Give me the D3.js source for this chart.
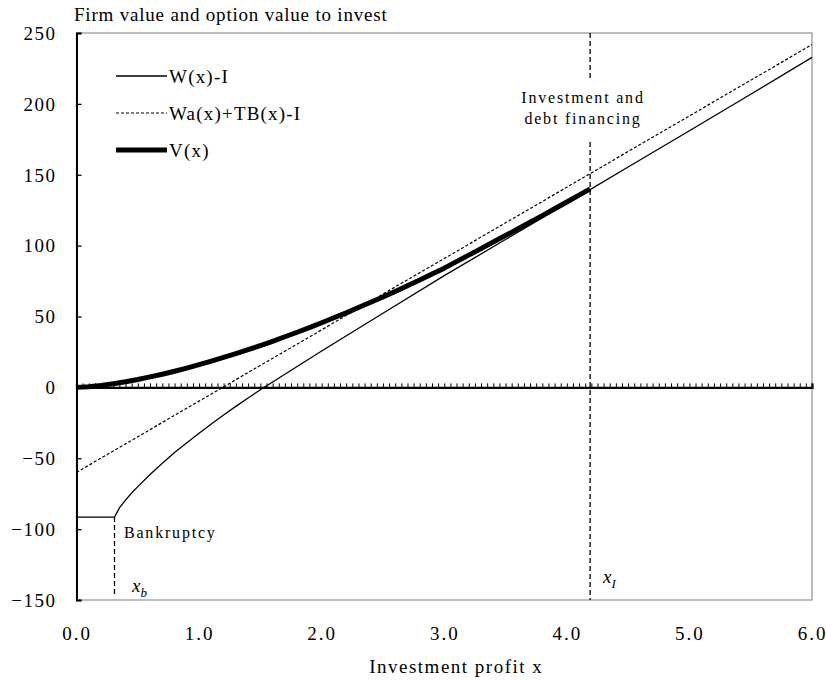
<!DOCTYPE html>
<html><head><meta charset="utf-8">
<script src="https://cdn.jsdelivr.net/npm/d3@7"></script>
<style>
html,body{margin:0;padding:0;background:#fff;}
svg{display:block;}
text{font-family:"Liberation Serif","Times New Roman",serif;fill:#000;}
</style></head>
<body>
<svg id="chart" width="826" height="682"></svg>
<script>
// ---- data ----
const xTickLabels = [0, 1, 2, 3, 4, 5, 6];
const yTickValues = [-150, -100, -50, 0, 50, 100, 150, 200, 250];

// W(x)-I (thin solid)
const wX = [0, 0.31, 0.35, 0.4, 0.45, 0.5, 0.6, 0.7, 0.8, 0.9, 1.0, 1.1, 1.2, 1.3, 1.4, 1.5, 1.6, 1.8, 2.0, 2.5, 3.0, 3.5, 4.0, 4.2, 4.5, 5.0, 5.5, 6.0];
const wY = [-91.5, -91.5, -85, -79.5, -74.5, -70, -61.5, -53.5, -46, -39, -32.3, -25.8, -19.5, -13.4, -7.5, -1.7, 3.8, 14.7, 25.7, 52.3, 78.8, 104.3, 129.8, 140.0, 155.5, 181, 206.8, 232.8];

// Wa(x)+TB(x)-I (thin dashed)
const aX = [0, 0.5, 1.0, 1.5, 2.0, 2.5, 3.0, 3.5, 4.0, 4.5, 5.0, 5.5, 6.0];
const aY = [-60, -34.8, -9.7, 15.5, 40.6, 65.8, 90.9, 116.1, 141.2, 166.4, 191.5, 216.7, 241.8];

// V(x) (thick solid), up to the investment trigger
const vX = [0, 0.1, 0.2, 0.3, 0.4, 0.5, 0.6, 0.7, 0.8, 0.9, 1.0, 1.1, 1.2, 1.3, 1.4, 1.5, 1.6, 1.7, 1.8, 1.9, 2.0, 2.1, 2.2, 2.3, 2.4, 2.5, 2.6, 2.7, 2.8, 2.9, 3.0, 3.1, 3.2, 3.3, 3.4, 3.5, 3.6, 3.7, 3.8, 3.9, 4.0, 4.1, 4.19];
const vY = [0, 0.5, 1.4, 2.6, 4.0, 5.6, 7.4, 9.3, 11.4, 13.6, 16.0, 18.5, 21.1, 23.8, 26.6, 29.5, 32.5, 35.7, 38.9, 42.2, 45.6, 49.1, 52.6, 56.3, 60.0, 63.8, 67.7, 71.7, 75.7, 79.9, 84.1, 88.7, 93.3, 97.9, 102.5, 107.1, 111.8, 116.5, 121.2, 126.0, 130.8, 135.6, 140.0];

const xBankrupt = 0.31;
const xInvest = 4.19;
const legendLabels = ["W(x)-I", "Wa(x)+TB(x)-I", "V(x)"];

// ---- layout ----
const svg = d3.select("#chart");
const L = 76.5, R = 812, T = 33, B = 600;
const x = d3.scaleLinear().domain([0, 6]).range([L, R]);
const y = d3.scaleLinear().domain([-150, 250]).range([B, T]);

// plot frame (gray)
svg.append("rect").attr("x", L).attr("y", T).attr("width", R - L).attr("height", B - T)
  .attr("fill", "none").attr("stroke", "#9a9a9a").attr("stroke-width", 1.3);

// series
const line = d3.line().x(d => x(d[0])).y(d => y(d[1]));
svg.append("path").datum(aX.map((v, i) => [v, aY[i]])).attr("d", line)
  .attr("fill", "none").attr("stroke", "#000").attr("stroke-width", 1.2).attr("stroke-dasharray", "3,2");
svg.append("path").datum(wX.map((v, i) => [v, wY[i]])).attr("d", line)
  .attr("fill", "none").attr("stroke", "#000").attr("stroke-width", 1.3);
svg.append("path").datum(vX.map((v, i) => [v, vY[i]])).attr("d", line)
  .attr("fill", "none").attr("stroke", "#000").attr("stroke-width", 5).attr("stroke-linejoin", "round");

// zero axis with dense ticks
const zeroAxis = d3.axisTop(x).tickValues(d3.range(0, 6.0001, 0.05)).tickSize(4).tickFormat("");
const gz = svg.append("g").attr("transform", `translate(0,${y(0)})`).call(zeroAxis);
gz.select(".domain").attr("stroke", "#000").attr("stroke-width", 2.2);
gz.selectAll(".tick line").attr("stroke", "#000").attr("stroke-width", 1);

// x labels at bottom
const xAxis = d3.axisBottom(x).tickValues(xTickLabels).tickSize(0).tickPadding(0).tickFormat(d3.format(".1f"));
const gx = svg.append("g").attr("transform", `translate(0,${B})`).call(xAxis);
gx.select(".domain").remove();
gx.selectAll("text").attr("y", 40).attr("dy", 0)
  .style("font-size", "19px").style("letter-spacing", "2px");

// y axis
const yAxis = d3.axisLeft(y).tickValues(yTickValues).tickSize(-5).tickPadding(20);
const gy = svg.append("g").attr("transform", `translate(${L},0)`).call(yAxis);
gy.select(".domain").attr("stroke", "#000").attr("stroke-width", 2);
gy.selectAll(".tick line").attr("stroke", "#000").attr("stroke-width", 1.3);
gy.selectAll("text").style("font-size", "19px").style("letter-spacing", "1.5px").attr("dy", "0.33em");

// vertical dashed markers
svg.append("line").attr("x1", x(xBankrupt)).attr("x2", x(xBankrupt))
  .attr("y1", y(wY[1])).attr("y2", B - 5)
  .attr("stroke", "#000").attr("stroke-width", 1.3).attr("stroke-dasharray", "5,3");
svg.append("line").attr("x1", x(xInvest)).attr("x2", x(xInvest))
  .attr("y1", T).attr("y2", 80)
  .attr("stroke", "#000").attr("stroke-width", 1.3).attr("stroke-dasharray", "5,3");
svg.append("line").attr("x1", x(xInvest)).attr("x2", x(xInvest))
  .attr("y1", 142).attr("y2", B)
  .attr("stroke", "#000").attr("stroke-width", 1.3).attr("stroke-dasharray", "5,3");

// annotations
svg.append("text").attr("x", 583).attr("y", 103).attr("text-anchor", "middle")
  .style("font-size", "16px").style("letter-spacing", "1.8px").text("Investment and");
svg.append("text").attr("x", 583).attr("y", 124).attr("text-anchor", "middle")
  .style("font-size", "16px").style("letter-spacing", "1.8px").text("debt financing");
svg.append("text").attr("x", 124).attr("y", 538)
  .style("font-size", "16px").style("letter-spacing", "1.8px").text("Bankruptcy");

const xb = svg.append("text").attr("x", 132).attr("y", 592).style("font-size", "19px").style("font-style", "italic");
xb.append("tspan").text("x");
xb.append("tspan").attr("dy", 5).style("font-size", "13px").text("b");
const xi = svg.append("text").attr("x", 603).attr("y", 583).style("font-size", "19px").style("font-style", "italic");
xi.append("tspan").text("x");
xi.append("tspan").attr("dy", 5).style("font-size", "13px").text("I");

// title and axis title
svg.append("text").attr("x", 74).attr("y", 21).style("font-size", "19px").style("letter-spacing", "0.8px")
  .text("Firm value and option value to invest");
svg.append("text").attr("x", (L + R) / 2 + 12).attr("y", 673).attr("text-anchor", "middle")
  .style("font-size", "19px").style("letter-spacing", "1.5px").text("Investment profit  x");

// legend
const legY = [76, 113, 150];
const legStyles = [{w: 1.3, d: null}, {w: 1.2, d: "3,2"}, {w: 5, d: null}];
legendLabels.forEach((lab, i) => {
  svg.append("line").attr("x1", 116).attr("x2", 167).attr("y1", legY[i]).attr("y2", legY[i])
    .attr("stroke", "#000").attr("stroke-width", legStyles[i].w).attr("stroke-dasharray", legStyles[i].d);
  svg.append("text").attr("x", 169).attr("y", legY[i] + 6.5)
    .style("font-size", "19px").style("letter-spacing", "1.2px").text(lab);
});
</script>
</body></html>
